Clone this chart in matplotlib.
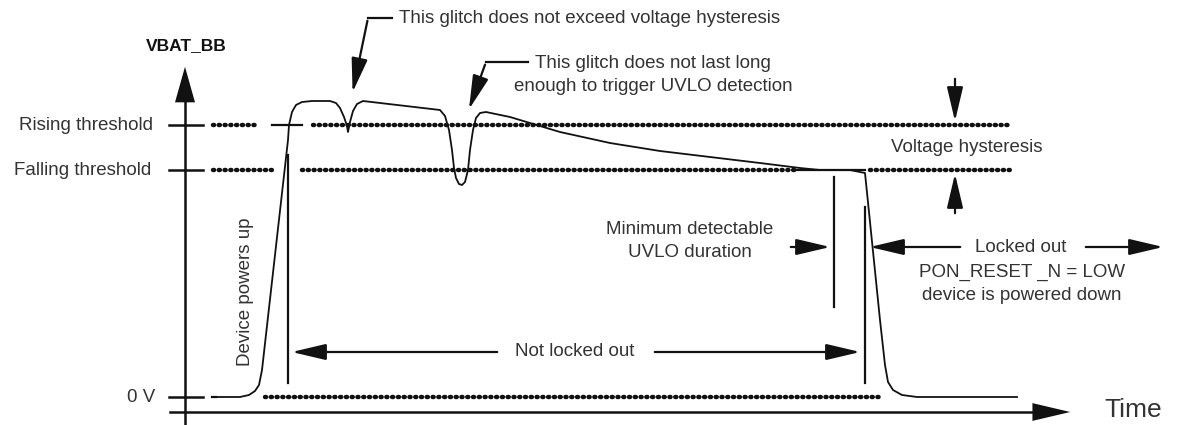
import matplotlib.pyplot as plt

plt.rcParams['font.family'] = ['Liberation Sans', 'DejaVu Sans']

INK = '#111111'
TXT = '#333333'
FS = 13.5

# signal trace (x = time px, y = screen px, downwards)
sig_x = [215, 240, 249, 255, 259, 262, 288, 289, 292, 296, 302, 312, 330, 336, 340, 344, 347, 348,
         350, 353, 357, 363, 440, 445, 449, 452, 454, 456, 459, 462, 465, 468, 470, 473, 476, 480,
         486, 510, 530, 560, 610, 660, 710, 760, 800, 820, 850, 865, 880, 885, 888, 893, 902, 917, 1017]
sig_y = [397, 397, 395, 391, 385, 370, 140, 125, 112, 105, 102, 101, 101, 103, 108, 117, 126, 132,
         122, 111, 104, 101, 110, 116, 130, 150, 168, 178, 184, 185, 182, 170, 150, 130, 118, 113,
         112, 117, 123, 132, 143, 151, 157, 163, 168, 170, 170, 173, 320, 365, 382, 390, 395, 397, 397]

# threshold levels and their dotted / solid pieces
level_y = {'rise': 125, 'fall': 170, 'zero': 397}
rise_dots = [(213, 258), (313, 1010)]
fall_dots = [(213, 273), (302, 797), (870, 1010)]
zero_dots = [(265, 880)]
solid_bits = [(272, 302, 125), (797, 865, 170), (212, 216, 397)]

labels_left = ['Rising threshold', 'Falling threshold', '0 V']

fig = plt.figure(figsize=(11.78, 4.25), dpi=100)
ax = fig.add_axes([0, 0, 1, 1])
ax.set_xlim(0, 1178)
ax.set_ylim(425, 0)
ax.axis('off')

dot_kw = dict(color=INK, lw=3.2, linestyle=(0, (0.25, 1.05)), dash_capstyle='round')
for a, b in rise_dots:
    ax.plot([a, b], [level_y['rise']] * 2, **dot_kw)
for a, b in fall_dots:
    ax.plot([a, b], [level_y['fall']] * 2, **dot_kw)
for a, b in zero_dots:
    ax.plot([a, b], [level_y['zero']] * 2, **dot_kw)
for a, b, y in solid_bits:
    ax.plot([a, b], [y, y], color=INK, lw=1.6)

# axes
ax.plot([185, 185], [425, 85], color=INK, lw=1.8)
ax.annotate('', xy=(185, 64), xytext=(185, 92),
            arrowprops=dict(arrowstyle='-|>,head_length=1.6,head_width=0.45', color=INK, lw=0, mutation_scale=16))
ax.plot([170, 1050], [412, 412], color=INK, lw=1.8)
ax.annotate('', xy=(1073, 412), xytext=(1045, 412),
            arrowprops=dict(arrowstyle='-|>,head_length=1.7,head_width=0.4', color=INK, lw=0, mutation_scale=16))
for y in (125, 170, 397):
    ax.plot([169, 203], [y, y], color=INK, lw=1.8)

ax.text(153, 125, labels_left[0], ha='right', va='center', fontsize=FS, color=TXT)
ax.text(151, 170, labels_left[1], ha='right', va='center', fontsize=FS, color=TXT)
ax.text(155, 397, labels_left[2], ha='right', va='center', fontsize=FS, color=TXT)
ax.text(186, 46, 'VBAT_BB', ha='center', va='center', fontsize=12.5, fontweight='bold', color=INK)
ax.text(1133, 410, 'Time', ha='center', va='center', fontsize=19, color=TXT)

# signal
ax.plot(sig_x, sig_y, color=INK, lw=1.3, solid_joinstyle='round')

# markers
for x, y0, y1 in [(288, 155, 383), (834, 177, 307), (865, 207, 383)]:
    ax.plot([x, x], [y0, y1], color=INK, lw=1.6)

arr = dict(arrowstyle='-|>,head_length=1.4,head_width=0.33', color=INK, lw=1.6, mutation_scale=15)


def arrow(x0, y0, x1, y1):
    ax.annotate('', xy=(x1, y1), xytext=(x0, y0), arrowprops=arr)


# Not locked out
arrow(500, 352, 289, 352)
arrow(652, 352, 863, 352)
ax.text(575, 352, 'Not locked out', ha='center', va='center', fontsize=FS, color=TXT)

# Minimum detectable UVLO duration
arrow(788, 247, 833, 247)
ax.text(690, 241, 'Minimum detectable\nUVLO duration', ha='center', va='center', fontsize=FS,
        color=TXT, linespacing=1.45)

# Locked out
arrow(963, 247, 867, 247)
arrow(1083, 247, 1166, 247)
ax.text(1021, 247, 'Locked out', ha='center', va='center', fontsize=FS, color=TXT)
ax.text(1022, 284, 'PON_RESET _N = LOW\ndevice is powered down', ha='center', va='center', fontsize=FS,
        color=TXT, linespacing=1.45)

# Voltage hysteresis
arrow(955, 76, 955, 124)
arrow(955, 216, 955, 171)
ax.text(967, 148, 'Voltage hysteresis', ha='center', va='center', fontsize=FS, color=TXT)

# glitch callouts
ax.plot([368, 392], [18, 18], color=INK, lw=1.6)
arrow(368, 18, 352, 95)
ax.text(399, 18, 'This glitch does not exceed voltage hysteresis', ha='left', va='center',
        fontsize=FS, color=TXT)
ax.plot([486, 528], [62, 62], color=INK, lw=1.6)
arrow(486, 62, 468, 112)
ax.text(653, 75, 'This glitch does not last long\nenough to trigger UVLO detection', ha='center',
        va='center', fontsize=FS, color=TXT, linespacing=1.45)

ax.text(246, 292, 'Device powers up', ha='center', va='center', rotation=90, fontsize=FS, color=TXT)

fig.savefig('out.png', dpi=100)
